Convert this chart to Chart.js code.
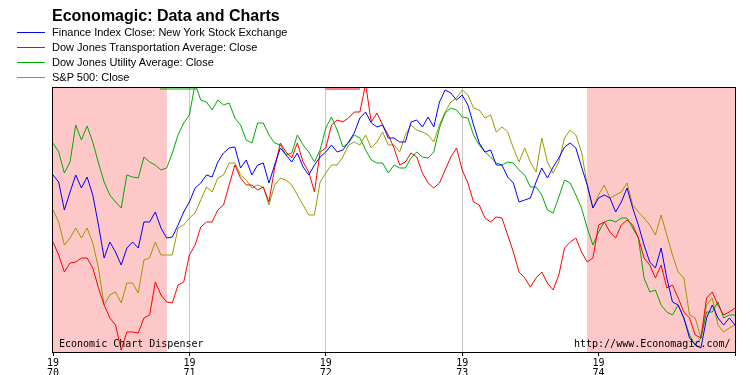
<!DOCTYPE html>
<html>
<head>
<meta charset="utf-8">
<script src="https://cdn.jsdelivr.net/npm/chart.js@4/dist/chart.umd.min.js"></script>
<style>
  body { margin: 0; background: #fff; }
  #wrap { position: relative; width: 750px; height: 375px; overflow: hidden; }
  #chart { position: absolute; left: 0; top: 0; }
  #title { position: absolute; left: 52px; top: 8px; font: bold 16px "Liberation Sans", Arial, sans-serif; line-height: 16px; color: #000; white-space: nowrap; }
  .leg { position: absolute; left: 17px; height: 15px; font: 11px "Liberation Sans", Arial, sans-serif; line-height: 15px; color: #000; white-space: nowrap; }
  .leg i { position: absolute; left: 0; top: 7px; width: 28px; height: 1px; }
  .leg span { position: absolute; left: 35px; top: 0; }
  .note { position: absolute; top: 337px; font: 10px "DejaVu Sans Mono", monospace; line-height: 14px; color: #000; white-space: nowrap; }
</style>
</head>
<body>
<div id="wrap">
  <canvas id="chart" width="750" height="375"></canvas>
  <div id="title">Economagic: Data and Charts</div>
  <div id="legend"></div>
  <div class="note" style="left:59px">Economic Chart Dispenser</div>
  <div class="note" style="left:574px">http://www.Economagic.com/</div>
</div>
<script>
// Series, two samples per month from Jan 1970 to Jan 1975
// (each series is scaled to the plot height: 0 = bottom, 264 = top)
const financeIndex = [
  177, 170, 142, 160, 177, 164, 175, 157, 127, 94, 110, 100, 87, 104, 110, 104, 130, 130, 140, 124, 114, 115, 127, 140,
  150, 164, 169, 177, 175, 190, 199, 204, 205, 184, 192, 177, 187, 189, 169, 187, 204, 197, 190, 199, 185, 177, 187, 195,
  200, 207, 200, 202, 210, 219, 234, 240, 229, 225, 227, 214, 214, 210, 210, 230, 232, 225, 235, 225, 250, 262, 259, 252,
  257, 247, 227, 209, 200, 202, 187, 187, 175, 169, 150, 152, 154, 170, 184, 174, 185, 194, 205, 209, 204, 185, 167, 144,
  154, 157, 154, 140, 150, 164, 144, 127, 107, 90, 84, 104, 74, 50, 47, 34, 14, 7, 4, 34, 47, 34, 27, 34, 27
];
const djTransport = [
  110, 97, 80, 89, 90, 94, 94, 84, 64, 47, 34, 27, 2, 20, 20, 19, 34, 37, 70, 57, 50, 49, 67, 70,
  97, 107, 125, 130, 130, 142, 147, 167, 187, 174, 167, 167, 162, 165, 150, 184, 209, 200, 194, 209, 190, 180, 160, 200,
  204, 227, 232, 230, 234, 240, 240, 268, 230, 239, 227, 217, 204, 187, 190, 199, 195, 179, 169, 164, 169, 182, 195, 204,
  182, 169, 150, 147, 134, 130, 135, 134, 117, 100, 80, 74, 65, 74, 80, 69, 62, 77, 104, 110, 114, 100, 90, 94,
  127, 130, 120, 114, 127, 132, 127, 114, 94, 87, 74, 87, 64, 67, 54, 40, 34, 17, 14, 54, 60, 47, 37, 40, 44
];
const djUtility = [
  209, 200, 179, 190, 227, 212, 226, 210, 189, 170, 157, 150, 144, 177, 175, 174, 195, 190, 187, 182, 184, 199, 217, 229,
  237, 268, 252, 250, 242, 252, 247, 249, 234, 227, 212, 209, 229, 229, 217, 209, 207, 197, 199, 217, 207, 200, 190, 202,
  224, 235, 222, 205, 209, 217, 214, 202, 192, 189, 189, 179, 187, 184, 184, 194, 200, 195, 194, 200, 224, 239, 244, 242,
  235, 234, 217, 207, 200, 195, 189, 187, 190, 189, 182, 177, 165, 165, 157, 142, 139, 155, 172, 169, 157, 144, 124, 107,
  120, 130, 132, 130, 134, 134, 124, 114, 74, 60, 62, 47, 40, 37, 47, 34, 17, 7, 14, 40, 40, 50, 34, 37, 37
];
const sp500 = [
  142, 130, 107, 114, 124, 114, 124, 109, 84, 47, 57, 60, 49, 69, 69, 59, 92, 94, 110, 97, 97, 97, 124, 127,
  134, 139, 152, 165, 160, 174, 177, 189, 189, 177, 172, 164, 167, 165, 147, 167, 174, 172, 167, 157, 147, 137, 137, 170,
  179, 187, 187, 195, 207, 210, 207, 217, 204, 210, 220, 207, 207, 200, 217, 227, 222, 220, 217, 210, 227, 240, 250, 254,
  262, 257, 244, 242, 234, 237, 220, 225, 220, 204, 190, 204, 190, 180, 214, 190, 179, 190, 214, 222, 217, 200, 167, 144,
  157, 167, 154, 157, 160, 169, 147, 140, 134, 127, 117, 137, 117, 97, 80, 74, 37, 34, 14, 47, 54, 27, 20, 24, 27
];

// Sample dates in years (two per month)
const dates = financeIndex.map((_, i) => 1970 + i / 24);

// Tick labels under each year line
const yearLabels = ['70', '71', '72', '73', '74'];

// Recession periods shaded pink (in years)
const recessionStart = [1970.0, 1973.915];
const recessionEnd = [1970.835, 1975.0];

// Off-scale runs the original plotter drew along the top edge
const topRunSeries = [2, 1];
const topRunFrom = [1970.784, 1971.998];
const topRunTo = [1971.056, 1972.25];

const seriesNames = [
  'Finance Index Close: New York Stock Exchange',
  'Dow Jones Transportation Average: Close',
  'Dow Jones Utility Average: Close',
  'S&P 500: Close'
];
const seriesColors = ['#0000ff', '#ff0000', '#00aa00', '#999900'];
const seriesValues = [financeIndex, djTransport, djUtility, sp500];

// Legend built as html above the plot
const legendBox = document.getElementById('legend');
seriesNames.forEach((name, i) => {
  const row = document.createElement('div');
  row.className = 'leg';
  row.style.top = (25 + i * 15) + 'px';
  row.innerHTML = '<i style="background:' + seriesColors[i] + '"></i><span></span>';
  row.querySelector('span').textContent = name;
  legendBox.appendChild(row);
});

const datasets = seriesValues.map((vals, i) => ({
  label: seriesNames[i],
  data: vals.map((v, j) => ({ x: dates[j], y: v })),
  borderColor: seriesColors[i],
  borderWidth: 1,
  pointRadius: 0,
  tension: 0
}));
topRunSeries.forEach((s, i) => {
  datasets.push({
    label: '',
    data: [{ x: topRunFrom[i], y: 263 }, { x: topRunTo[i], y: 263 }],
    borderColor: seriesColors[s],
    borderWidth: 1,
    pointRadius: 0
  });
});

// Pink recession bands, drawn behind the lines
const recessionBands = {
  id: 'recessionBands',
  beforeDatasetsDraw(chart) {
    const { ctx, chartArea, scales } = chart;
    ctx.save();
    ctx.fillStyle = '#ffc8c8';
    recessionStart.forEach((s, i) => {
      const x1 = scales.x.getPixelForValue(s);
      const x2 = scales.x.getPixelForValue(recessionEnd[i]);
      ctx.fillRect(x1, chartArea.top, x2 - x1, chartArea.bottom - chartArea.top);
    });
    ctx.restore();
  }
};

// Black frame round the plot
const plotFrame = {
  id: 'plotFrame',
  afterDraw(chart) {
    const { ctx, chartArea } = chart;
    ctx.save();
    ctx.strokeStyle = '#000';
    ctx.lineWidth = 1;
    ctx.strokeRect(chartArea.left - 0.5, chartArea.top - 0.5,
      chartArea.right - chartArea.left + 1, chartArea.bottom - chartArea.top + 1);
    ctx.restore();
  }
};

new Chart(document.getElementById('chart').getContext('2d'), {
  type: 'line',
  data: { datasets: datasets },
  plugins: [recessionBands, plotFrame],
  options: {
    responsive: false,
    animation: false,
    devicePixelRatio: 1,
    layout: { padding: { left: 53, top: 88, right: 15, bottom: 0 } },
    plugins: { legend: { display: false }, tooltip: { enabled: false } },
    scales: {
      x: {
        type: 'linear',
        min: 1970,
        max: 1975,
        afterFit: s => { s.height = 23; },
        border: { display: false },
        grid: {
          color: c => (c.tick && c.tick.value > 1970 && c.tick.value < 1975) ? '#c8c8c8' : 'rgba(0,0,0,0)',
          tickColor: '#000',
          tickLength: 4,
          lineWidth: 1
        },
        ticks: {
          stepSize: 1,
          autoSkip: false,
          maxRotation: 0,
          padding: 2,
          color: '#000',
          font: { family: 'DejaVu Sans Mono', size: 10, lineHeight: 1.0 },
          callback: v => (v >= 1970 && v < 1975) ? ['19', yearLabels[v - 1970]] : ''
        }
      },
      y: { display: false, min: 0, max: 264 }
    }
  }
});
</script>
</body>
</html>
